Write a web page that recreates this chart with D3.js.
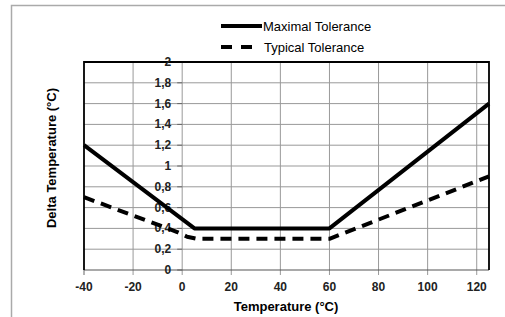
<!DOCTYPE html>
<html><head><meta charset="utf-8">
<script src="https://cdn.jsdelivr.net/npm/d3@7"></script>
<style>body{margin:0;background:#fff}svg{display:block}</style>
</head><body>
<script>
const maxTemp = [-40, 5, 60, 125];
const maxDelta = [1.2, 0.4, 0.4, 1.6];
const typTemp = [-40, -2, 2, 6, 60, 125];
const typDelta = [0.7, 0.365, 0.32, 0.3, 0.3, 0.9];
const xTicks = [-40, -20, 0, 20, 40, 60, 80, 100, 120];
const yTicks = [0, 0.2, 0.4, 0.6, 0.8, 1, 1.2, 1.4, 1.6, 1.8, 2];
const seriesNames = ["Maximal Tolerance", "Typical Tolerance"];

const W = 505, H = 317;
const svg = d3.select("body").append("svg").attr("width", W).attr("height", H);
const font = "Liberation Sans, Arial, sans-serif";

// outer frame
svg.append("path").attr("d", `M11.5,${H}V5.5H${W}`).attr("fill","none").attr("stroke","#aaa").attr("stroke-width",1.5);

const L = 84, R = 489, T = 62, B = 270;
const x = d3.scaleLinear().domain([-40, 125]).range([L, R]);
const y = d3.scaleLinear().domain([0, 2]).range([B, T]);

// grid
const g = svg.append("g");
g.selectAll(".vg").data(xTicks.filter(d => d > -40)).join("line")
  .attr("x1", d => x(d)).attr("x2", d => x(d)).attr("y1", T).attr("y2", B + 5)
  .attr("stroke", "#999").attr("stroke-width", 1);
g.selectAll(".hg").data(yTicks.filter(d => d > 0 && d < 2)).join("line")
  .attr("x1", L).attr("x2", R).attr("y1", d => y(d)).attr("y2", d => y(d))
  .attr("stroke", "#999").attr("stroke-width", 1);
g.append("line").attr("x1", x(-40)).attr("x2", x(-40)).attr("y1", B).attr("y2", B + 5).attr("stroke", "#666");
g.selectAll(".yt").data(yTicks).join("line")
  .attr("x1", x(0) - 5).attr("x2", x(0)).attr("y1", d => y(d)).attr("y2", d => y(d))
  .attr("stroke", "#666");

// frame
svg.append("line").attr("x1", L).attr("x2", R).attr("y1", B).attr("y2", B).attr("stroke", "#555").attr("stroke-width", 1.2);
svg.append("path").attr("d", `M${L},${B}V${T}H${R}V${B}`).attr("fill", "none").attr("stroke", "#000").attr("stroke-width", 1.8);

// tick labels
svg.selectAll(".xl").data(xTicks).join("text")
  .attr("x", d => x(d)).attr("y", 291).attr("text-anchor", "middle")
  .attr("font-family", font).attr("font-weight", "bold").attr("font-size", 12).attr("fill", "#222")
  .text(d => d);
svg.selectAll(".yl").data(yTicks).join("text")
  .attr("x", x(0) - 11).attr("y", d => y(d) + 4).attr("text-anchor", "end")
  .attr("font-family", font).attr("font-weight", "bold").attr("font-size", 12).attr("fill", "#222")
  .text(d => String(d).replace(".", ","));

// axis titles
svg.append("text").attr("x", 286).attr("y", 311).attr("text-anchor", "middle")
  .attr("font-family", font).attr("font-weight", "bold").attr("font-size", 13).text("Temperature (°C)");
svg.append("text").attr("transform", "translate(56,158) rotate(-90)").attr("text-anchor", "middle")
  .attr("font-family", font).attr("font-weight", "bold").attr("font-size", 13).text("Delta Temperature (°C)");

// lines
const lineLin = d3.line().x(d => x(d[0])).y(d => y(d[1]));
svg.append("path").datum(maxTemp.map((t, i) => [t, maxDelta[i]]))
  .attr("d", lineLin).attr("fill", "none").attr("stroke", "#000").attr("stroke-width", 4).attr("stroke-linejoin", "round");
svg.append("path").datum(typTemp.map((t, i) => [t, typDelta[i]]))
  .attr("d", lineLin).attr("fill", "none").attr("stroke", "#000").attr("stroke-width", 4)
  .attr("stroke-linejoin", "round").attr("stroke-dasharray", "11,7");

// legend
const leg = svg.append("g");
leg.append("line").attr("x1", 221).attr("x2", 262).attr("y1", 26).attr("y2", 26).attr("stroke", "#000").attr("stroke-width", 4);
leg.append("line").attr("x1", 221).attr("x2", 258).attr("y1", 47).attr("y2", 47).attr("stroke", "#000").attr("stroke-width", 4).attr("stroke-dasharray", "11,9");
leg.selectAll("text").data(seriesNames).join("text")
  .attr("x", (d, i) => i ? 264 : 263).attr("y", (d, i) => 31 + i * 21)
  .attr("font-family", font).attr("font-size", 13).text(d => d);
</script>
</body></html>
